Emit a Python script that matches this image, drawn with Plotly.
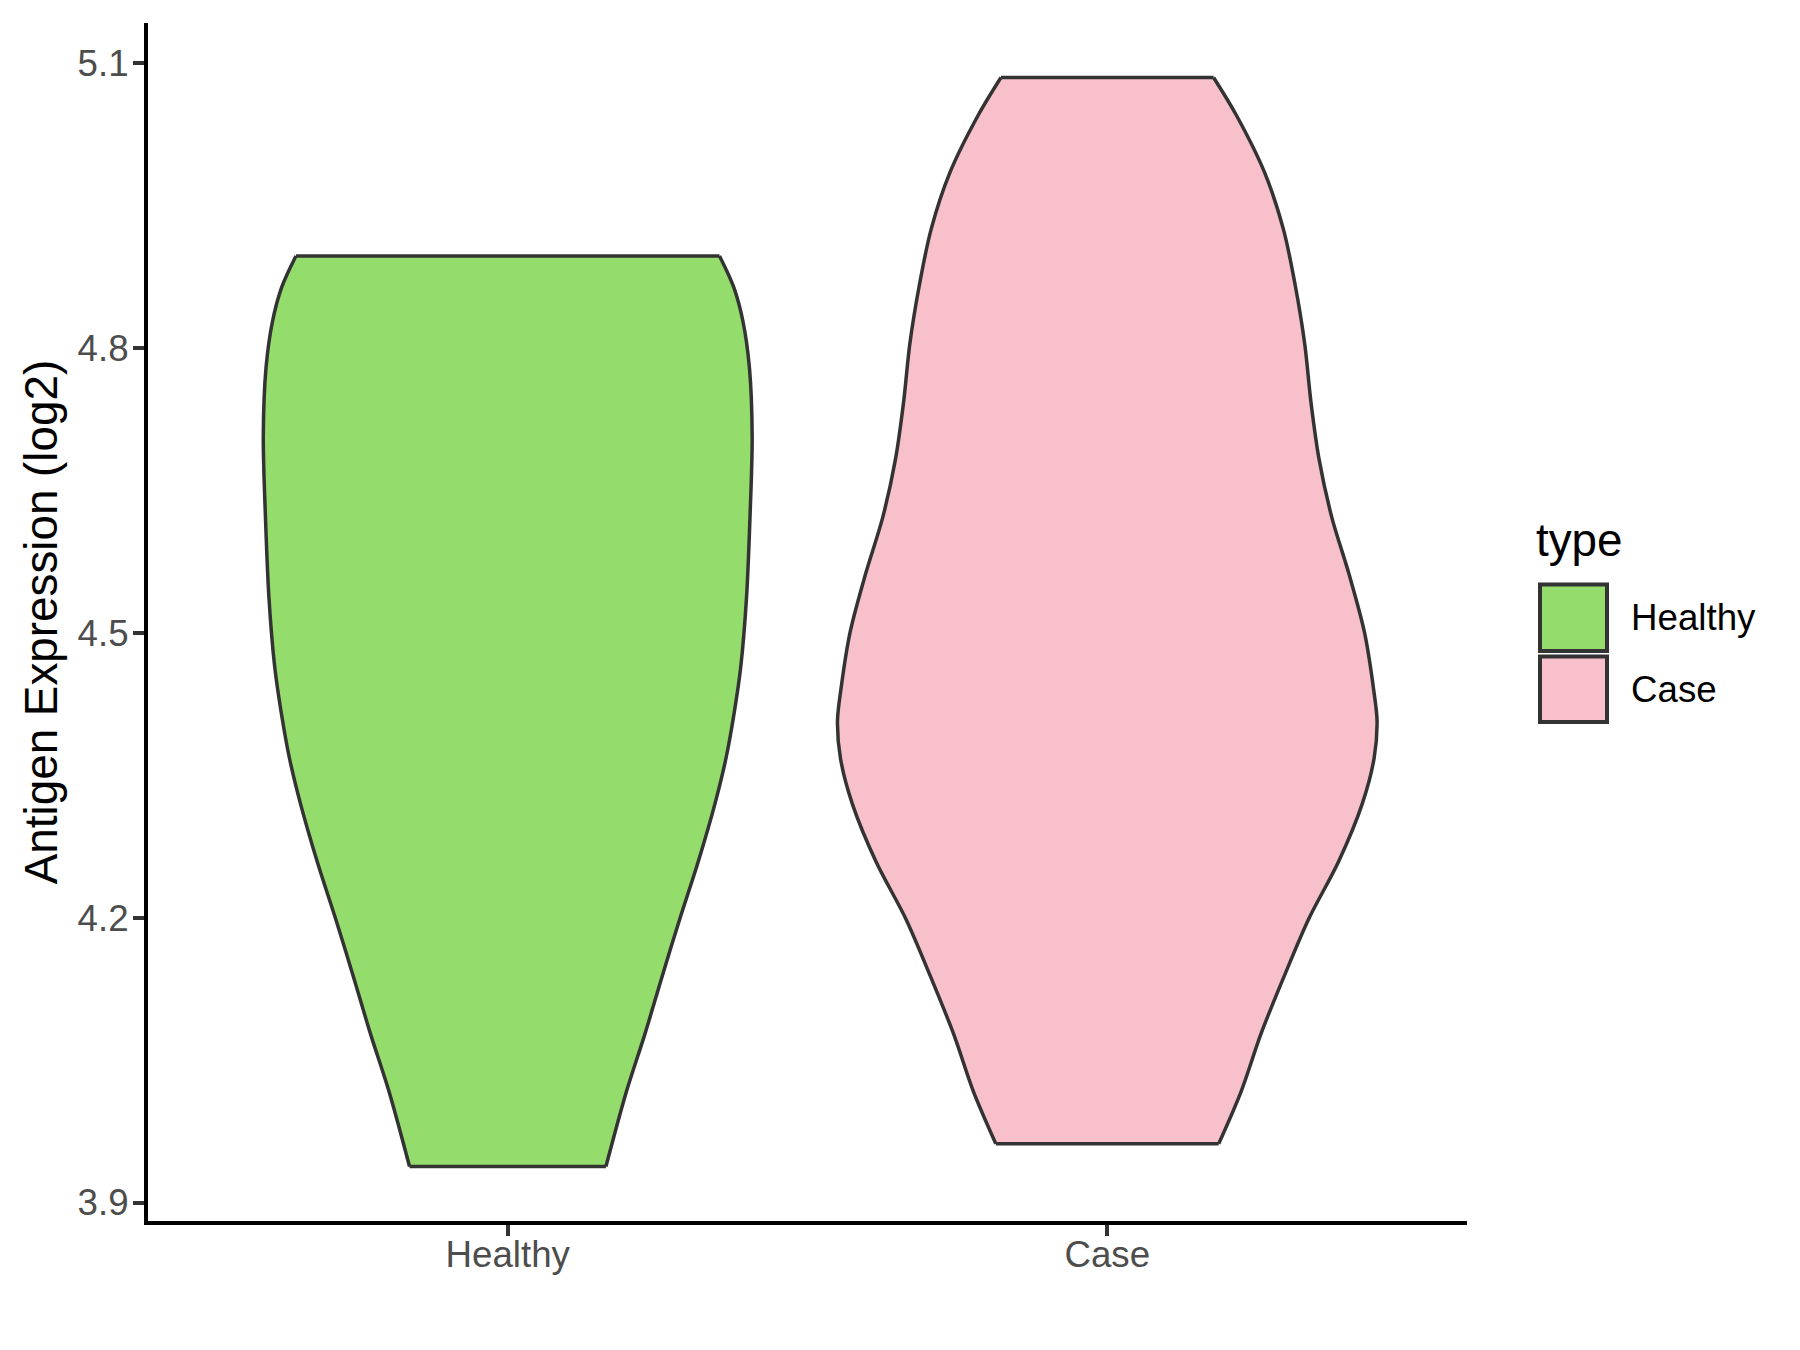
import plotly.graph_objects as go

# ---- data ----
categories = ["Healthy", "Case"]

# violin outlines: expression level (log2) and relative density (max = 1)
healthy_y = [4.897, 4.864, 4.828, 4.779, 4.707, 4.622, 4.537, 4.465, 4.417, 4.368,
             4.320, 4.259, 4.199, 4.138, 4.078, 4.017, 3.938]
healthy_density = [0.785, 0.838, 0.872, 0.896, 0.906, 0.898, 0.885, 0.864, 0.840, 0.809,
                   0.768, 0.706, 0.638, 0.572, 0.509, 0.440, 0.364]

case_y = [5.085, 5.046, 4.985, 4.925, 4.864, 4.804, 4.743, 4.683, 4.622, 4.562,
          4.501, 4.441, 4.407, 4.368, 4.320, 4.259, 4.199, 4.138, 4.078, 4.017, 3.962]
case_density = [0.394, 0.477, 0.583, 0.653, 0.698, 0.732, 0.755, 0.785, 0.832, 0.896,
                0.953, 0.987, 1.000, 0.989, 0.945, 0.857, 0.747, 0.655, 0.570, 0.496, 0.413]

y_ticks = [3.9, 4.2, 4.5, 4.8, 5.1]
y_tick_labels = ["3.9", "4.2", "4.5", "4.8", "5.1"]

fill_colors = ["#94DC6B", "#F7C0CB"]
outline_color = "#333333"

# the page body offsets the figure; size it so the plot lands where it should
OFF_X, OFF_Y = 6, 8
W, H = 1800 - OFF_X, 1350 - OFF_Y
ML, MT, MB = 146 - OFF_X, 23 - OFF_Y, 129
MR = W - ML - 1319
FONT = "Liberation Sans, Arial, sans-serif"

fig = go.Figure()

violin_width = 0.9
series = [(healthy_y, healthy_density), (case_y, case_density)]
for i, (ys, dens) in enumerate(series):
    c = i + 1
    half = [violin_width / 2 * d for d in dens]
    xr = [c + h for h in half]
    xl = [c - h for h in half]
    # filled body
    fig.add_trace(go.Scatter(
        x=xr + xl[::-1] + [xr[0]], y=ys + ys[::-1] + [ys[0]],
        mode="lines", fill="toself", fillcolor=fill_colors[i],
        line=dict(width=0, color=fill_colors[i]),
        hoverinfo="skip", showlegend=False))
    # outline
    ox = xr + [None] + xl + [None] + [xl[0], xr[0]] + [None] + [xl[-1], xr[-1]]
    oy = ys + [None] + ys + [None] + [ys[0], ys[0]] + [None] + [ys[-1], ys[-1]]
    fig.add_trace(go.Scatter(
        x=ox, y=oy, mode="lines", connectgaps=False,
        line=dict(color=outline_color, width=3.5, shape="spline", smoothing=0.9),
        hoverinfo="skip", showlegend=False))

all_y = healthy_y + case_y
ymin, ymax = min(all_y), max(all_y)
pad = 0.05 * (ymax - ymin)

fig.update_xaxes(
    range=[1 - 0.6, len(categories) + 0.6],
    tickvals=list(range(1, len(categories) + 1)), ticktext=categories,
    showline=True, linecolor="black", linewidth=4.2,
    ticks="outside", ticklen=11, tickwidth=4.2, tickcolor=outline_color,
    tickfont=dict(family=FONT, size=36.7, color="#4D4D4D"),
    showgrid=False, zeroline=False, ticklabelstandoff=-13)
fig.update_yaxes(
    range=[ymin - pad, ymax + pad],
    tickvals=y_ticks, ticktext=y_tick_labels,
    showline=True, linecolor="black", linewidth=4.2,
    ticks="outside", ticklen=11, tickwidth=4.2, tickcolor=outline_color,
    tickfont=dict(family=FONT, size=36.7, color="#4D4D4D"),
    showgrid=False, zeroline=False, ticklabelstandoff=-3,
    title=dict(text="Antigen Expression (log2)",
               font=dict(family=FONT, size=45.8, color="black"), standoff=7))

# ---- legend drawn as keys + labels (positions given in page pixels) ----
pw, ph = W - ML - MR, H - MT - MB
def px(x):
    return (x - OFF_X - ML) / pw
def py(y):
    return (H - MB - (y - OFF_Y)) / ph

key_x0, key_x1 = 1538, 1605
key_rows = [(584.5, 651), (656.5, 722)]
for i, (t, b) in enumerate(key_rows):
    fig.add_shape(type="rect", xref="paper", yref="paper",
                  x0=px(key_x0), x1=px(key_x1), y0=py(b), y1=py(t),
                  fillcolor=fill_colors[i], line=dict(color=outline_color, width=4))
    fig.add_annotation(xref="paper", yref="paper", x=px(1627), y=py((t + b) / 2),
                       text=categories[i], showarrow=False, xanchor="left", yanchor="middle",
                       font=dict(family=FONT, size=36.7, color="black"))
fig.add_annotation(xref="paper", yref="paper", x=px(1532), y=py(540),
                   text="type", showarrow=False, xanchor="left", yanchor="middle",
                   font=dict(family=FONT, size=45.8, color="black"))

fig.update_layout(
    width=W, height=H,
    margin=dict(l=ML, r=MR, t=MT, b=MB, autoexpand=False),
    paper_bgcolor="white", plot_bgcolor="white",
    showlegend=False)

fig.write_html("out.html")
